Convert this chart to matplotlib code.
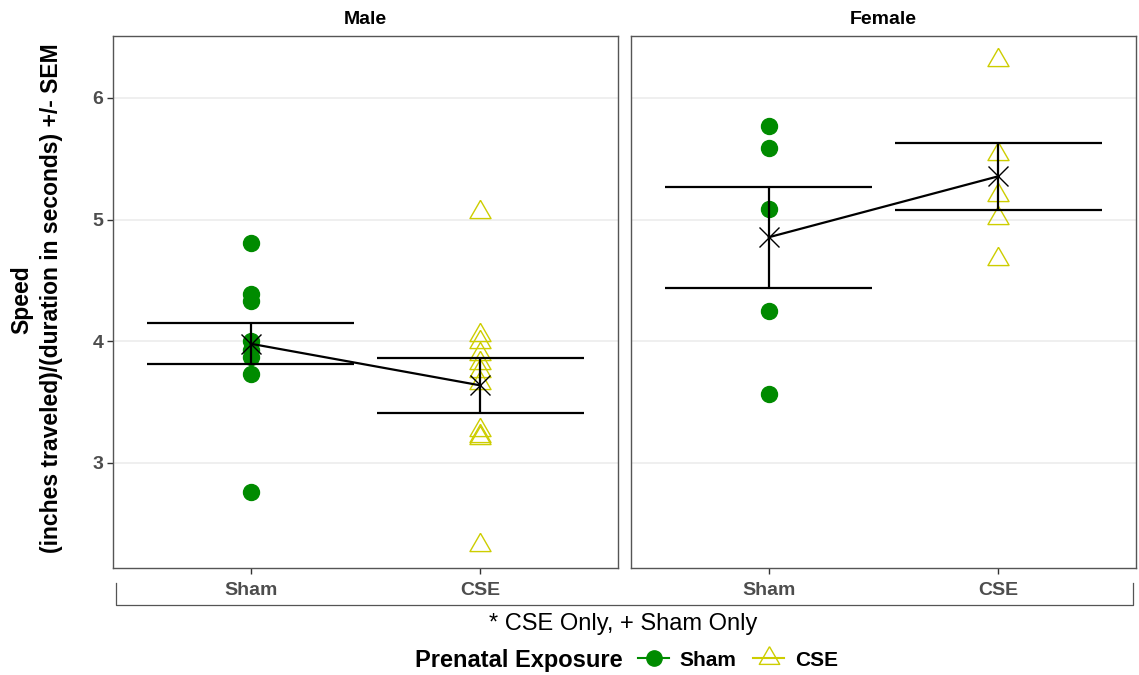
import matplotlib
matplotlib.use("Agg")
import matplotlib.pyplot as plt
from matplotlib.lines import Line2D
import numpy as np

plt.rcParams['font.family'] = ['Liberation Sans', 'DejaVu Sans']

# ---- data ----
sexes = ['Male', 'Female']
exposures = ['Sham', 'CSE']
male_sham = [4.81, 4.39, 4.33, 4.00, 3.93, 3.87, 3.73, 2.76]
male_cse = [5.065, 4.05, 3.995, 3.895, 3.825, 3.755, 3.655, 3.275, 3.225, 3.205, 2.325]
female_sham = [5.77, 5.59, 5.09, 4.25, 3.57]
female_cse = [6.31, 5.54, 5.205, 5.015, 4.675]
male_means = [3.98, 3.638]
male_sems = [0.168, 0.228]
female_means = [4.855, 5.356]
female_sems = [0.416, 0.277]
y_ticks = [3, 4, 5, 6]

GREEN = '#008B00'
YELLOW = '#CDCD00'
TICKCOL = '#4D4D4D'

tri = [(0, 1.5551), (1.3468, -0.7776), (-1.3468, -0.7776), (0, 1.5551)]

W, H = 1139, 675
fig = plt.figure(figsize=(W / 100, H / 100), dpi=100)
ax1 = fig.add_axes([113 / W, 1 - 568 / H, 505 / W, 532 / H])
ax2 = fig.add_axes([631 / W, 1 - 568 / H, 505 / W, 532 / H])

panels = [
    (ax1, 'Male', male_sham, male_cse, male_means, male_sems),
    (ax2, 'Female', female_sham, female_cse, female_means, female_sems),
]

xpos = np.arange(1, len(exposures) + 1)
for ax, title, sham, cse, means, sems in panels:
    ax.set_xlim(0.4, 2.6)
    ax.set_ylim(2.137, 6.509)
    for y in y_ticks:
        ax.axhline(y, color='#EBEBEB', lw=1.1, zorder=0)
    ax.plot([xpos[0]] * len(sham), sham, linestyle='none', marker='o', ms=11.5,
            color=GREEN, mec=GREEN, zorder=2)
    ax.plot([xpos[1]] * len(cse), cse, linestyle='none', marker=tri, ms=17.5,
            mfc='none', mec=YELLOW, mew=1.0, zorder=2)
    means = np.array(means)
    sems = np.array(sems)
    ax.vlines(xpos, means - sems, means + sems, color='black', lw=1.6, zorder=3)
    ax.hlines(means - sems, xpos - 0.45, xpos + 0.45, color='black', lw=1.6, zorder=3)
    ax.hlines(means + sems, xpos - 0.45, xpos + 0.45, color='black', lw=1.6, zorder=3)
    ax.plot(xpos, means, color='black', lw=1.6, zorder=4)
    ax.plot(xpos, means, linestyle='none', marker='x', ms=14, mew=1.0,
            color='black', zorder=5)
    ax.set_xticks(xpos)
    ax.set_xticklabels(exposures, fontsize=14, fontweight='bold', color=TICKCOL)
    ax.set_yticks(y_ticks)
    ax.tick_params(axis='both', length=4, width=1, color='#333333')
    ax.tick_params(axis='x', pad=6)
    ax.tick_params(axis='y', pad=3)
    for s in ax.spines.values():
        s.set_color('#555555')
        s.set_linewidth(1.0)
    ax.set_title(title, fontsize=14, fontweight='bold', pad=9)

ax1.set_yticklabels([str(t) for t in y_ticks], fontsize=14, fontweight='bold', color=TICKCOL)
ax2.tick_params(axis='y', left=False, labelleft=False)

# y label (two lines)
fig.text(22 / W, 1 - 300 / H, 'Speed', rotation=90, ha='center', va='center',
         fontsize=16.5, fontweight='bold')
fig.text(52 / W, 1 - 298 / H, '(inches traveled)/(duration in seconds) +/- SEM',
         rotation=90, ha='center', va='center', fontsize=16.5, fontweight='bold')

# bracket under the panels
fig.add_artist(Line2D([116 / W, 116 / W, 1133 / W, 1133 / W],
                      [1 - 583 / H, 1 - 605 / H, 1 - 605 / H, 1 - 583 / H],
                      transform=fig.transFigure, color='#555555', lw=0.9))
fig.text(623 / W, 1 - 624 / H, '* CSE Only, + Sham Only', ha='center', va='center',
         fontsize=17)

# legend
fig.text(623 / W, 1 - 660 / H, 'Prenatal Exposure', ha='right', va='center',
         fontsize=17, fontweight='bold')
handles = [
    Line2D([], [], color=GREEN, marker='o', ms=11, lw=1.5),
    Line2D([], [], color=YELLOW, marker=tri, ms=17, mfc='none', mew=1.0, lw=1.5),
]
fig.legend(handles, exposures, loc='center left',
           bbox_to_anchor=(638 / W, 1 - 660 / H), ncol=2, frameon=False,
           handlelength=1.5, handletextpad=0.5, columnspacing=0.8,
           borderpad=0, borderaxespad=0,
           prop={'weight': 'bold', 'size': 15})

fig.savefig('out.png', dpi=100)
